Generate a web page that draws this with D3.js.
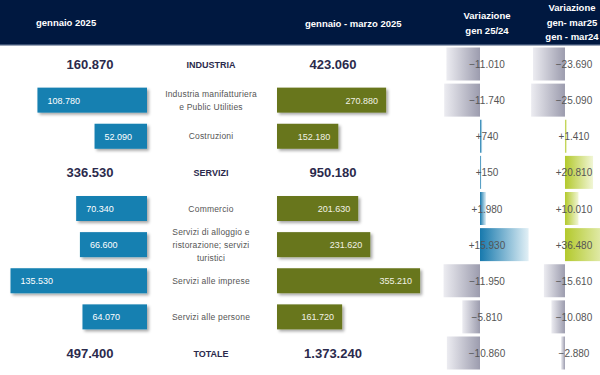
<!DOCTYPE html>
<html>
<head>
<meta charset="utf-8">
<script src="https://cdn.jsdelivr.net/npm/d3@7"></script>
<style>
	body { margin: 0; background: #fff; }
	svg { display: block; font-family: "Liberation Sans", Arial, sans-serif; }
</style>
</head>
<body>
<div id="chart"></div>
<script>
// data
var categories = ["INDUSTRIA", "Industria manifatturiera|e Public Utilities", "Costruzioni", "SERVIZI",
	"Commercio", "Servizi di alloggio e|ristorazione; servizi|turistici", "Servizi alle imprese",
	"Servizi alle persone", "TOTALE"];
var isTotal = [true, false, false, true, false, false, false, false, true];
var jan2025 = [160870, 108780, 52090, 336530, 70340, 66600, 135530, 64070, 497400];
var janMar2025 = [423060, 270880, 152180, 950180, 201630, 231620, 355210, 161720, 1373240];
var varJan = [-11010, -11740, 740, 150, 1980, 15930, -11950, -5810, -10860];
var varJanMar = [-23690, -25090, 1410, 20810, 10010, 36480, -15610, -10080, -2880];

var w = 600, h = 375;

var it = d3.formatLocale({decimal: ",", thousands: ".", grouping: [3], currency: ["", "€"]});
var fmt = it.format(",d"),
	fmtSign = function(v){ return (v > 0 ? "+" : "") + fmt(v); };

var svg = d3.select("#chart").append("svg")
	.attr("width", w)
	.attr("height", h);

var defs = svg.append("defs");

var shadow = defs.append("filter").attr("id", "shadow")
	.attr("x", "-10%").attr("y", "-20%").attr("width", "130%").attr("height", "160%");
shadow.append("feDropShadow")
	.attr("dx", 2).attr("dy", 2).attr("stdDeviation", 1.4)
	.attr("flood-color", "#000").attr("flood-opacity", 0.35);

function grad(id, c1, c2) {
	var g = defs.append("linearGradient").attr("id", id)
		.attr("x1", "0%").attr("x2", "100%").attr("y1", "0%").attr("y2", "0%");
	g.append("stop").attr("offset", "0%").attr("stop-color", c1);
	g.append("stop").attr("offset", "100%").attr("stop-color", c2);
}
grad("negGrad", "#ececf1", "#9c9cae");
grad("bluGrad", "#1779ad", "#e2f0f6");
grad("grnGrad", "#b3c92c", "#f1f6d6");

// scales
var idx = d3.range(categories.length);
var y = d3.scalePoint().domain(idx).range([64, 353]);
var xL = d3.scaleLinear().domain([0, 140000]).range([147, 6]);
var xR = d3.scaleLinear().domain([0, 360000]).range([277, 422]);
var xV1 = d3.scaleLinear().domain([-12000, 16000]).range([443.4, 528.8]);
var xV2 = d3.scaleLinear().domain([-26000, 37000]).range([529.9, 614.9]);

// header
svg.append("rect").attr("x", 0).attr("y", 0).attr("width", w).attr("height", 45).attr("fill", "#001840");
svg.append("rect").attr("x", 0).attr("y", 44).attr("width", w).attr("height", 1.5).attr("fill", "#3a4f72");

var head = svg.append("g").attr("fill", "#fff").style("font-weight", "bold").style("font-size", "9.5px");
head.append("text").attr("x", 36).attr("y", 26).text("gennaio 2025");
head.append("text").attr("x", 305).attr("y", 27).text("gennaio  - marzo 2025");
head.append("text").attr("x", 487).attr("y", 19).attr("text-anchor", "middle").text("Variazione");
head.append("text").attr("x", 487).attr("y", 34).attr("text-anchor", "middle").text("gen 25/24");
head.append("text").attr("x", 572).attr("y", 11).attr("text-anchor", "middle").text("Variazione");
head.append("text").attr("x", 572).attr("y", 26).attr("text-anchor", "middle").text("gen- mar25");
head.append("text").attr("x", 572).attr("y", 40).attr("text-anchor", "middle").text("gen - mar24");

var rows = svg.selectAll("g.row").data(idx).enter().append("g")
	.attr("class", "row")
	.attr("transform", function(i){ return "translate(0," + y(i) + ")"; });

// variation columns
function varBars(vals, x, posGrad, cx) {
	rows.append("rect")
		.attr("x", function(i){ return Math.min(x(0), x(vals[i])); })
		.attr("y", -16.5)
		.attr("width", function(i){ return Math.max(1.5, Math.abs(x(vals[i]) - x(0))); })
		.attr("height", 33)
		.attr("fill", function(i){ return vals[i] < 0 ? "url(#negGrad)" : "url(#" + posGrad + ")"; });
	rows.append("text")
		.attr("x", cx).attr("y", 4)
		.attr("text-anchor", "middle")
		.style("font-size", "10px")
		.attr("fill", "#555")
		.text(function(i){ return fmtSign(vals[i]); });
}
varBars(varJan, xV1, "bluGrad", 487);
varBars(varJanMar, xV2, "grnGrad", 574);

// detail bars
var detail = rows.filter(function(i){ return !isTotal[i]; });

detail.append("rect")
	.attr("x", function(i){ return xL(jan2025[i]); })
	.attr("y", -12.5)
	.attr("width", function(i){ return xL(0) - xL(jan2025[i]); })
	.attr("height", 25)
	.attr("fill", "#1580b1")
	.attr("filter", "url(#shadow)");

detail.append("text")
	.attr("x", function(i){ return xL(jan2025[i]) + 10; })
	.attr("y", 3.5)
	.attr("fill", "#fff")
	.style("font-size", "9px")
	.text(function(i){ return fmt(jan2025[i]); });

detail.append("rect")
	.attr("x", xR(0))
	.attr("y", -12.5)
	.attr("width", function(i){ return xR(janMar2025[i]) - xR(0); })
	.attr("height", 25)
	.attr("fill", "#67761d")
	.attr("filter", "url(#shadow)");

detail.append("text")
	.attr("x", function(i){ return xR(janMar2025[i]) - 8; })
	.attr("y", 3.5)
	.attr("text-anchor", "end")
	.attr("fill", "#f2f2e6")
	.style("font-size", "9px")
	.text(function(i){ return fmt(janMar2025[i]); });

detail.each(function(i){
	var lines = categories[i].split("|");
	var t = d3.select(this).append("text")
		.attr("text-anchor", "middle")
		.attr("fill", "#555")
		.style("font-size", "8.5px")
		.style("letter-spacing", "0.2px");
	lines.forEach(function(l, k){
		t.append("tspan")
			.attr("x", 211)
			.attr("y", 3 + (k - (lines.length - 1) / 2) * 13)
			.text(l);
	});
});

// total rows
var totals = rows.filter(function(i){ return isTotal[i]; });

totals.append("text")
	.attr("x", 90).attr("y", 4.5)
	.attr("text-anchor", "middle")
	.attr("fill", "#2b2a4c")
	.style("font-size", "13px").style("font-weight", "bold")
	.text(function(i){ return fmt(jan2025[i]); });

totals.append("text")
	.attr("x", 333).attr("y", 4.5)
	.attr("text-anchor", "middle")
	.attr("fill", "#2b2a4c")
	.style("font-size", "13px").style("font-weight", "bold")
	.text(function(i){ return fmt(janMar2025[i]); });

totals.append("text")
	.attr("x", 211).attr("y", 4)
	.attr("text-anchor", "middle")
	.attr("fill", "#2b2a4c")
	.style("font-size", "9px").style("font-weight", "bold")
	.text(function(i){ return categories[i]; });
</script>
</body>
</html>
